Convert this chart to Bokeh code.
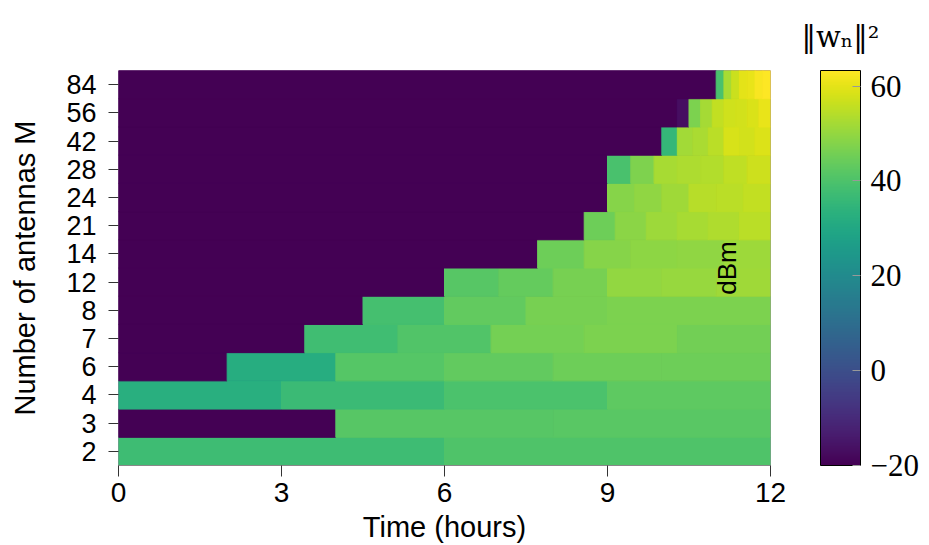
import math
from itertools import groupby
from bokeh.plotting import figure
from bokeh.models import (ColumnDataSource, LinearColorMapper, ColorBar, FixedTicker,
                          FactorRange, Range1d, Label)
from bokeh.palettes import Viridis256
from bokeh.transform import transform
from bokeh.embed import file_html
from bokeh.resources import INLINE

# ---------------- data ----------------
total_hours = 12
antennas = [2, 3, 4, 6, 7, 8, 12, 14, 21, 24, 28, 42, 56, 84]
# per-row values (dBm); row M has M equal time slots over 12 hours; -20 = off (dark)
p_m2 = [37.5, 40.5]
p_m3 = [-20, 41.5, 42.0]
p_m4 = [32.5, 36.8, 39.8, 42.7]
p_m6 = [-20, 31.8, 41.4, 43.2, 45.0, 44.8]
p_m7 = [-20, -20, 37.8, 40.8, 46.0, 46.8, 45.5]
p_m8 = [-20, -20, -20, 38.6, 43.3, 46.2, 47.0, 47.0]
p_m12 = [-20] * 6 + [41.5, 43.5, 46.2, 49.8, 50.4, 51.5]
p_m14 = [-20] * 9 + [45.0, 48.2, 49.0, 49.6, 51.0]
p_m21 = [-20] * 15 + [44.8, 48.7, 51.0, 52.3, 53.5, 54.8]
p_m24 = [-20] * 18 + [48.2, 49.5, 51.5, 54.3, 54.8, 55.6]
p_m28 = [-20] * 21 + [39.3, 47.3, 52.5, 53.0, 53.8, 55.3, 57.0]
p_m42 = [-20] * 35 + [35.6, 51.6, 52.6, 54.8, 58.2, 57.6, 58.8]
p_m56 = [-20] * 48 + [-17.0, 46.8, 52.2, 55.6, 57.3, 57.7, 58.6, 60.5]
p_m84 = [-20] * 77 + [39.5, 52.5, 56.5, 60.0, 60.5, 62.5, 63.5]
rows = [p_m2, p_m3, p_m4, p_m6, p_m7, p_m8, p_m12, p_m14, p_m21, p_m24,
        p_m28, p_m42, p_m56, p_m84]
x_ticks = [0, 3, 6, 9, 12]
cbar_ticks = [-20, 0, 20, 40, 60]
cbar_low, cbar_high = -20, 63.3

# ---------------- build table (runs of equal slots merged) ----------------
xs, ys, ws, vs = [], [], [], []
for m, vals in zip(antennas, rows):
    slot = total_hours / m
    start = 0
    for v, grp in groupby(vals):
        n = len(list(grp))
        xs.append((start + n / 2) * slot)
        ys.append(str(m))
        ws.append(n * slot)
        vs.append(v)
        start += n
src = ColumnDataSource(dict(x=xs, y=ys, w=ws, v=vs))

mapper = LinearColorMapper(palette=Viridis256, low=cbar_low, high=cbar_high)

p = figure(width=929, height=545,
           x_range=Range1d(0, total_hours),
           y_range=FactorRange(*[str(m) for m in antennas]),
           output_backend="svg", toolbar_location=None,
           min_border_left=118, min_border_top=70,
           min_border_right=159, min_border_bottom=80)

p.rect(x="x", y="y", width="w", height=1, source=src,
       fill_color=transform("v", mapper), line_color=transform("v", mapper),
       line_width=1)

p.grid.visible = False
p.outline_line_color = None
p.background_fill_color = Viridis256[0]

sans = "Liberation Sans"
serif = "Liberation Serif"
p.xaxis.ticker = FixedTicker(ticks=x_ticks)
p.xaxis.axis_label = "Time (hours)"
p.yaxis.axis_label = "Number of antennas M"
for ax in (p.xaxis[0], p.yaxis[0]):
    ax.axis_label_text_font = sans
    ax.axis_label_text_font_style = "normal"
    ax.axis_label_text_font_size = "29px"
    ax.axis_label_text_color = "black"
    ax.major_label_text_font = sans
    ax.major_label_text_color = "black"
    ax.major_tick_out = 10
    ax.major_tick_in = 0
    ax.minor_tick_line_color = None
    ax.major_tick_line_color = "#333333"
p.xaxis.major_tick_out = 11
p.xaxis.major_label_text_font_size = "28px"
p.yaxis.major_label_text_font_size = "27px"
p.xaxis.axis_line_color = "#888888"
p.yaxis.axis_line_color = None
p.xaxis.major_label_standoff = 6
p.xaxis.axis_label_standoff = 6
p.yaxis.major_label_standoff = 12
p.yaxis.axis_label_standoff = 22

p.add_layout(Label(x=11.2, y=7.0, text="dBm", angle=math.pi / 2,
                   text_align="center", text_baseline="middle",
                   text_font=sans, text_font_size="26px", text_color="black"))

# colour-bar title, as the figure title shifted over the colour bar
p.title.text = "\u2016w\u2099\u2016\u00b2"
p.title.align = "left"
p.title.offset = 683
p.title.standoff = 33
p.title.text_font = "DejaVu Serif"
p.title.text_font_size = "29px"
p.title.text_font_style = "normal"
p.title.text_color = "black"

cb = ColorBar(color_mapper=mapper, location=(50, 0), width=40, height=395,
              padding=0, margin=0,
              ticker=FixedTicker(ticks=cbar_ticks),
              major_label_overrides={-20: "\u221220"},
              major_label_text_font=serif,
              major_label_text_font_size="31px",
              major_label_text_color="black",
              major_tick_in=8, major_tick_out=0,
              major_tick_line_color="#999999",
              label_standoff=10,
              bar_line_color="black", bar_line_width=1,
              background_fill_color=None, border_line_color=None)
p.add_layout(cb, "right")

open("out.html", "w").write(file_html(p, INLINE))
